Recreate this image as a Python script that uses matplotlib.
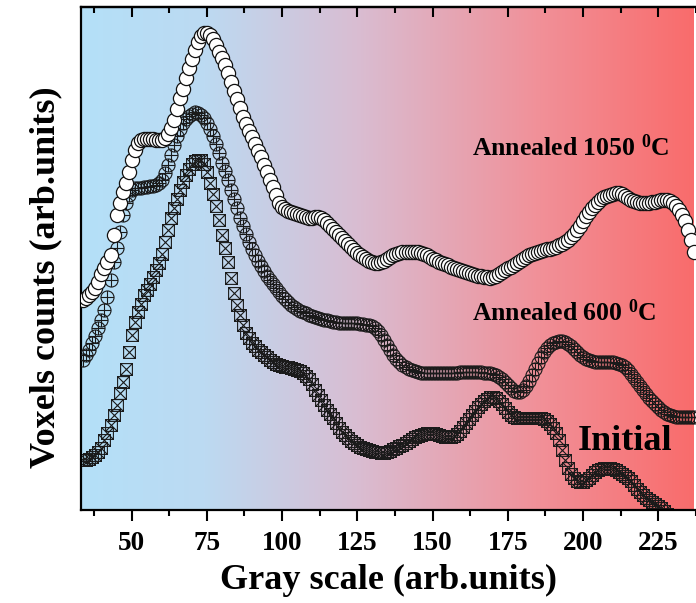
import numpy as np
import matplotlib
matplotlib.use("Agg")
import matplotlib.pyplot as plt
from matplotlib.path import Path
from matplotlib.colors import LinearSegmentedColormap

# Voxel histograms, one value per gray level starting at 34
gray_start = 34

counts_1050 = [
    210, 212, 215, 218, 222, 228, 236, 242, 248, 255,
    275, 295, 307, 318, 327, 338, 350, 360, 367, 370,
    371, 371, 371, 371, 370, 370, 370, 372, 376, 382,
    390, 401, 412, 421, 432, 442, 451, 460, 468, 474,
    477, 477, 475, 471, 465, 458, 452, 445, 437, 428,
    419, 411, 402, 393, 386, 379, 373, 366, 359, 353,
    345, 338, 330, 323, 315, 307, 303, 301, 299, 298,
    297, 296, 295, 294, 293, 292, 292, 293, 293, 292,
    290, 287, 284, 281, 278, 275, 272, 269, 266, 263,
    260, 257, 255, 253, 251, 249, 248, 247, 247, 248,
    249, 251, 253, 255, 256, 257, 258, 258, 258, 258,
    258, 258, 257, 256, 255, 253, 251, 250, 248, 247,
    246, 245, 243, 242, 241, 240, 239, 238, 237, 236,
    235, 234, 234, 233, 233, 232, 233, 234, 236, 238,
    240, 242, 243, 245, 247, 249, 251, 253, 255, 256,
    257, 258, 259, 260, 261, 261, 262, 263, 265, 266,
    268, 270, 273, 276, 280, 284, 289, 294, 298, 302,
    305, 308, 311, 313, 314, 315, 316, 317, 317, 316,
    314, 312, 310, 309, 308, 307, 307, 307, 307, 308,
    308, 309, 310, 310, 310, 309, 307, 304, 300, 295,
    289, 280, 270, 258,
]

counts_600 = [
    150, 155, 160, 167, 174, 182, 190, 200, 213, 230,
    248, 262, 278, 295, 307, 315, 320, 322, 322, 322,
    323, 323, 324, 324, 325, 327, 330, 337, 345, 355,
    365, 374, 381, 387, 391, 394, 396, 398, 397, 395,
    392, 387, 381, 374, 366, 357, 347, 339, 330, 320,
    311, 302, 292, 284, 276, 268, 261, 255, 249, 244,
    239, 234, 230, 226, 222, 218, 214, 211, 208, 205,
    203, 201, 199, 198, 197, 195, 194, 193, 192, 191,
    190, 190, 189, 188, 188, 187, 187, 187, 187, 187,
    187, 187, 186, 186, 185, 185, 184, 182, 179, 175,
    170, 165, 160, 155, 151, 148, 145, 143, 141, 140,
    139, 138, 137, 137, 137, 137, 137, 137, 137, 137,
    137, 137, 137, 137, 137, 138, 138, 138, 138, 138,
    138, 138, 138, 137, 137, 137, 136, 135, 133, 131,
    128, 125, 122, 119, 118, 118, 120, 124, 129, 135,
    141, 147, 153, 158, 162, 165, 167, 168, 169, 169,
    168, 166, 164, 161, 158, 155, 153, 151, 150, 149,
    148, 148, 148, 148, 148, 148, 148, 147, 146, 145,
    143, 140, 136, 132, 128, 124, 120, 116, 112, 109,
    106, 103, 100, 98, 96, 95, 94, 93, 93, 93,
    93, 93, 93, 93,
]

counts_initial = [
    50, 50, 51, 53, 55, 58, 62, 70, 77, 85,
    95, 105, 117, 128, 141, 158, 175, 188, 198, 206,
    215, 220, 226, 233, 240, 247, 256, 268, 280, 292,
    302, 311, 320, 328, 335, 341, 346, 349, 350, 350,
    346, 338, 327, 316, 304, 290, 275, 262, 248, 232,
    217, 205, 195, 185, 177, 172, 167, 164, 160, 158,
    155, 153, 150, 148, 146, 145, 144, 143, 143, 142,
    141, 140, 139, 137, 134, 131, 126, 120, 115, 110,
    105, 100, 96, 92, 87, 82, 78, 75, 72, 69,
    67, 65, 63, 62, 61, 60, 59, 58, 58, 57,
    57, 58, 59, 61, 62, 64, 65, 67, 69, 71,
    73, 74, 75, 76, 77, 77, 77, 76, 75, 74,
    73, 73, 73, 74, 76, 79, 83, 87, 91, 95,
    99, 103, 106, 109, 111, 113, 113, 112, 109, 106,
    102, 98, 95, 93, 92, 92, 92, 92, 92, 92,
    92, 92, 92, 91, 89, 86, 82, 77, 70, 60,
    50, 42, 36, 32, 29, 28, 28, 30, 32, 35,
    38, 40, 41, 42, 42, 42, 41, 40, 38, 36,
    34, 32, 29, 25, 21, 18, 15, 12, 10, 8,
    6, 4, 2, -1, -4, -7,
]

major_ticks = [50, 75, 100, 125, 150, 175, 200, 225]
minor_ticks = [37.5, 62.5, 87.5, 112.5, 137.5, 162.5, 187.5, 212.5, 237.5]

x_range = (33.2, 236.6)
y_range = (0, 503.3)

plt.rcParams['font.family'] = ['Liberation Serif', 'DejaVu Serif']
plt.rcParams['font.weight'] = 'bold'
plt.rcParams['mathtext.fontset'] = 'custom'
plt.rcParams['mathtext.rm'] = 'Liberation Serif:bold'
plt.rcParams['mathtext.bf'] = 'Liberation Serif:bold'
plt.rcParams['mathtext.it'] = 'Liberation Serif:bold'

fig = plt.figure(figsize=(6.96, 6.03), dpi=100)
ax = fig.add_axes([81 / 696, 93 / 603, 615 / 696, 503.3 / 603])

# horizontal blue-to-red backdrop
bg_cmap = LinearSegmentedColormap.from_list(
    'bg', [(0.0, '#b4e0f8'), (0.2, '#bcdaf2'), (0.45, '#d9bdd2'),
           (0.75, '#f19098'), (1.0, '#f96c6c')])
ax.imshow(np.linspace(0, 1, 512)[None, :], cmap=bg_cmap, aspect='auto',
          extent=[x_range[0], x_range[1], y_range[0], y_range[1]],
          interpolation='bilinear', zorder=0)

# marker shapes
circle = Path.unit_circle()
plus = Path([(-1, 0), (1, 0), (0, -1), (0, 1)],
            [Path.MOVETO, Path.LINETO, Path.MOVETO, Path.LINETO])
oplus = Path.make_compound_path(circle, plus)
box_x = Path([(-1, -1), (1, -1), (1, 1), (-1, 1), (-1, -1),
              (-1, -1), (1, 1), (-1, 1), (1, -1)],
             [Path.MOVETO, Path.LINETO, Path.LINETO, Path.LINETO, Path.CLOSEPOLY,
              Path.MOVETO, Path.LINETO, Path.MOVETO, Path.LINETO])

g_init = np.arange(gray_start, gray_start + len(counts_initial))
g_600 = np.arange(gray_start, gray_start + len(counts_600))
g_1050 = np.arange(gray_start, gray_start + len(counts_1050))

ax.plot(g_init, counts_initial, linestyle='none', marker=box_x, ms=8.5,
        mfc='none', mec='#1a1a1a', mew=0.8, zorder=2)
ax.plot(g_600, counts_600, linestyle='none', marker=oplus, ms=9.4,
        mfc='none', mec='#1a1a1a', mew=0.8, zorder=3)
ax.plot(g_1050, counts_1050, linestyle='none', marker='o', ms=10.2,
        mfc='white', mec='#111111', mew=0.9, zorder=4)

ax.text(163.2, 362, r'Annealed 1050 $^{0}$C', fontsize=18.5, fontweight='bold',
        ha='left', va='center', zorder=5)
ax.text(163.2, 197, r'Annealed 600 $^{0}$C', fontsize=18.5, fontweight='bold',
        ha='left', va='center', zorder=5)
ax.text(198.3, 68, 'Initial', fontsize=26, fontweight='bold',
        ha='left', va='center', zorder=5)

ax.set_xlim(*x_range)
ax.set_ylim(*y_range)
ax.set_xticks(major_ticks)
ax.set_xticks(minor_ticks, minor=True)
ax.set_yticks([])
ax.tick_params(axis='x', which='major', direction='out', length=8, width=1.5,
               labelsize=19.5, pad=7)
ax.tick_params(axis='x', which='minor', direction='out', length=4.5, width=1.5)
for lbl in ax.get_xticklabels():
    lbl.set_fontweight('bold')

for side in ('left', 'bottom', 'top'):
    ax.spines[side].set_linewidth(1.6)
ax.spines['right'].set_visible(False)

top = ax.secondary_xaxis('top')
top.set_xticks(major_ticks)
top.set_xticks(minor_ticks, minor=True)
top.tick_params(axis='x', which='major', direction='in', length=7.5, width=1.5,
                labeltop=False)
top.tick_params(axis='x', which='minor', direction='in', length=4, width=1.5)
top.spines['top'].set_linewidth(1.6)

ax.set_xlabel('Gray scale (arb.units)', fontsize=26, fontweight='bold', labelpad=6)
ax.set_ylabel('Voxels counts (arb.units)', fontsize=26, fontweight='bold')
ax.yaxis.set_label_coords(-0.03, 0.463)

fig.savefig('out.png', dpi=100)
